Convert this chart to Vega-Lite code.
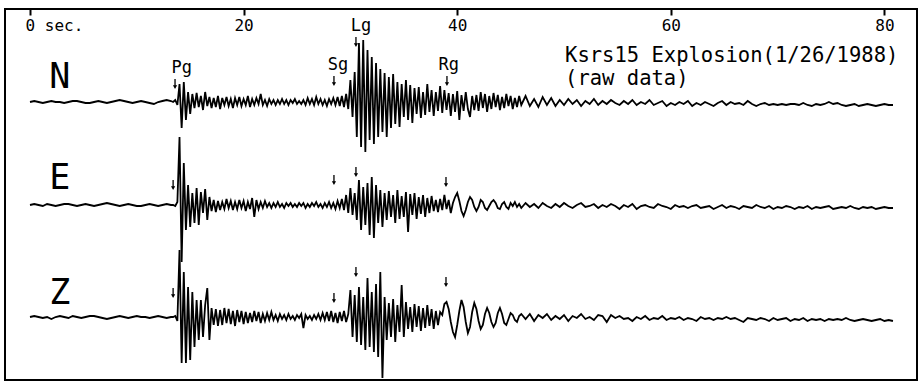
{
"$schema":"https://vega.github.io/schema/vega-lite/v6.json",
"width":912,"height":371,
"autosize":{"type":"none"},
"padding":{"left":5,"top":9,"right":5,"bottom":3},
"background":"white",
"config":{"view":{"stroke":"black","strokeWidth":2},"text":{"font":"DejaVu Sans Mono","color":"black"}},
"datasets":{
"N":[{"t":0,"v":0},{"t":0.4,"v":1},{"t":0.8,"v":0},{"t":1.2,"v":-1},{"t":1.6,"v":0},{"t":2.0,"v":1},{"t":2.4,"v":0},{"t":2.8,"v":0},{"t":3.2,"v":-1},{"t":3.6,"v":0},{"t":4.0,"v":1},{"t":4.4,"v":1},{"t":4.8,"v":0},{"t":5.2,"v":-1},{"t":5.6,"v":-1},{"t":6.0,"v":0},{"t":6.4,"v":1},{"t":6.8,"v":0},{"t":7.2,"v":-1},{"t":7.6,"v":0},{"t":8.0,"v":1},{"t":8.4,"v":2},{"t":8.8,"v":1},{"t":9.2,"v":0},{"t":9.6,"v":-1},{"t":10.0,"v":0},{"t":10.4,"v":1},{"t":10.8,"v":0},{"t":11.2,"v":-1},{"t":11.6,"v":-2},{"t":12.0,"v":0},{"t":12.4,"v":1},{"t":12.8,"v":2},{"t":13.2,"v":1},
{"t":13.4,"v":0},{"t":13.6,"v":2},{"t":13.8,"v":-3},{"t":14.0,"v":18},{"t":14.2,"v":-26},{"t":14.4,"v":20},{"t":14.6,"v":-18},{"t":14.8,"v":10},{"t":15.0,"v":-12},{"t":15.2,"v":8},{"t":15.4,"v":-6},{"t":15.6,"v":9},{"t":15.8,"v":-5},{"t":16.0,"v":6},{"t":16.2,"v":-8},{"t":16.4,"v":10},{"t":16.6,"v":-4},{"t":16.8,"v":5},{"t":17.0,"v":-6},{"t":17.2,"v":4},{"t":17.4,"v":-5},{"t":17.6,"v":6},{"t":17.8,"v":-7},{"t":18.0,"v":4},{"t":18.2,"v":-3},{"t":18.4,"v":5},{"t":18.6,"v":-4},{"t":18.8,"v":3},{"t":19.0,"v":-6},{"t":19.2,"v":4},{"t":19.4,"v":-3},{"t":19.6,"v":5},{"t":19.8,"v":-4},{"t":20.0,"v":3},{"t":20.2,"v":-3},{"t":20.4,"v":6},{"t":20.6,"v":-5},{"t":20.8,"v":3},{"t":21.0,"v":-3},{"t":21.2,"v":4},{"t":21.4,"v":-2},{"t":21.6,"v":8},{"t":21.8,"v":-3},{"t":22.0,"v":2},{"t":22.2,"v":-4},{"t":22.4,"v":3},{"t":22.6,"v":-2},{"t":22.8,"v":2},{"t":23.0,"v":-3},{"t":23.2,"v":2},{"t":23.4,"v":-2},{"t":23.6,"v":3},{"t":23.8,"v":-2},{"t":24.0,"v":2},{"t":24.2,"v":-3},{"t":24.4,"v":2},{"t":24.6,"v":-1},{"t":24.8,"v":3},{"t":25.0,"v":-2},{"t":25.2,"v":1},{"t":25.4,"v":-2},{"t":25.6,"v":2},{"t":25.8,"v":-3},{"t":26.0,"v":4},{"t":26.2,"v":-2},{"t":26.4,"v":3},{"t":26.6,"v":-3},{"t":26.8,"v":5},{"t":27.0,"v":-2},{"t":27.2,"v":3},{"t":27.4,"v":-3},{"t":27.6,"v":2},{"t":27.8,"v":-4},{"t":28.0,"v":3},{"t":28.2,"v":-2},{"t":28.4,"v":4},{"t":28.6,"v":-3},{"t":28.8,"v":5},{"t":29.0,"v":-4},{"t":29.2,"v":6},{"t":29.4,"v":-5},{"t":29.6,"v":8},{"t":29.8,"v":-7},{"t":30.0,"v":22},{"t":30.2,"v":-15},{"t":30.4,"v":30},{"t":30.6,"v":-35},{"t":30.8,"v":59},{"t":31.0,"v":-45},{"t":31.2,"v":62},{"t":31.4,"v":-50},{"t":31.6,"v":52},{"t":31.8,"v":-38},{"t":32.0,"v":45},{"t":32.2,"v":-42},{"t":32.4,"v":39},{"t":32.6,"v":-35},{"t":32.8,"v":33},{"t":33.0,"v":-30},{"t":33.2,"v":29},{"t":33.4,"v":-35},{"t":33.6,"v":25},{"t":33.8,"v":-26},{"t":34.0,"v":28},{"t":34.2,"v":-22},{"t":34.4,"v":20},{"t":34.6,"v":-25},{"t":34.8,"v":18},{"t":35.0,"v":-15},{"t":35.2,"v":22},{"t":35.4,"v":-18},{"t":35.6,"v":17},{"t":35.8,"v":-21},{"t":36.0,"v":14},{"t":36.2,"v":-12},{"t":36.4,"v":15},{"t":36.6,"v":-16},{"t":36.8,"v":10},{"t":37.0,"v":-13},{"t":37.2,"v":18},{"t":37.4,"v":-10},{"t":37.6,"v":12},{"t":37.8,"v":-14},{"t":38.0,"v":10},{"t":38.2,"v":-9},{"t":38.4,"v":16},{"t":38.6,"v":-11},{"t":38.8,"v":12},{"t":39.0,"v":-8},{"t":39.2,"v":9},{"t":39.4,"v":-14},{"t":39.6,"v":8},{"t":39.8,"v":-10},{"t":40.0,"v":11},{"t":40.2,"v":-18},{"t":40.4,"v":7},{"t":40.6,"v":-9},{"t":40.8,"v":10},{"t":41.0,"v":-7},{"t":41.2,"v":-15},{"t":41.4,"v":6},{"t":41.6,"v":-8},{"t":41.8,"v":7},{"t":42.0,"v":-9},{"t":42.2,"v":10},{"t":42.4,"v":-6},{"t":42.6,"v":8},{"t":42.8,"v":-10},{"t":43.0,"v":6},{"t":43.2,"v":-7},{"t":43.4,"v":9},{"t":43.6,"v":-5},{"t":43.8,"v":7},{"t":44.0,"v":-8},{"t":44.2,"v":5},{"t":44.4,"v":-6},{"t":44.6,"v":8},{"t":44.8,"v":-4},{"t":45.0,"v":6},{"t":45.2,"v":-7},{"t":45.4,"v":4},{"t":45.6,"v":-5},{"t":45.8,"v":6},{"t":46.0,"v":-3},
{"t":46.4,"v":6},{"t":46.8,"v":-4},{"t":47.2,"v":3},{"t":47.6,"v":-5},{"t":48.0,"v":5},{"t":48.4,"v":-3},{"t":48.8,"v":4},{"t":49.2,"v":-4},{"t":49.6,"v":2},{"t":50.0,"v":-3},{"t":50.4,"v":3},{"t":50.8,"v":-2},{"t":51.2,"v":2},{"t":51.6,"v":-4},{"t":52.0,"v":1},{"t":52.4,"v":-2},{"t":52.8,"v":3},{"t":53.2,"v":-3},{"t":53.6,"v":1},{"t":54.0,"v":-2},{"t":54.4,"v":2},{"t":54.8,"v":-1},{"t":55.2,"v":-3},{"t":55.6,"v":1},{"t":56.0,"v":-2},{"t":56.4,"v":2},{"t":56.8,"v":-3},{"t":57.2,"v":0},{"t":57.6,"v":-2},{"t":58.0,"v":2},{"t":58.4,"v":-3},{"t":58.8,"v":-1},{"t":59.2,"v":1},{"t":59.6,"v":-4},{"t":60.0,"v":-1},{"t":60.4,"v":-3},{"t":60.8,"v":0},{"t":61.2,"v":-2},{"t":61.6,"v":1},{"t":62.0,"v":-4},{"t":62.4,"v":-1},{"t":62.8,"v":-3},{"t":63.2,"v":0},{"t":63.6,"v":-2},{"t":64.0,"v":-4},{"t":64.4,"v":-1},{"t":64.8,"v":1},{"t":65.2,"v":-3},{"t":65.6,"v":0},{"t":66.0,"v":-2},{"t":66.4,"v":-1},{"t":66.8,"v":-3},{"t":67.2,"v":1},{"t":67.6,"v":-2},{"t":68.0,"v":-4},{"t":68.4,"v":-2},{"t":68.8,"v":-1},{"t":69.2,"v":-3},{"t":69.6,"v":-2},{"t":70.0,"v":-3},{"t":70.4,"v":-2},{"t":70.8,"v":-3},{"t":71.2,"v":-2},{"t":71.6,"v":-2},{"t":72.0,"v":-3},{"t":72.4,"v":-1},{"t":72.8,"v":-3},{"t":73.2,"v":-4},{"t":73.6,"v":-2},{"t":74.0,"v":-3},{"t":74.4,"v":-2},{"t":74.8,"v":0},{"t":75.2,"v":-2},{"t":75.6,"v":-1},{"t":76.0,"v":-3},{"t":76.4,"v":-4},{"t":76.8,"v":-3},{"t":77.2,"v":-2},{"t":77.6,"v":-4},{"t":78.0,"v":-3},{"t":78.4,"v":-2},{"t":78.8,"v":-3},{"t":79.2,"v":-4},{"t":79.6,"v":-3},{"t":80.0,"v":-2},{"t":80.4,"v":-3},{"t":80.8,"v":-3}],
"E":[{"t":0,"v":0},{"t":0.4,"v":1},{"t":0.8,"v":0},{"t":1.2,"v":-1},{"t":1.6,"v":1},{"t":2.0,"v":0},{"t":2.4,"v":-1},{"t":2.8,"v":0},{"t":3.2,"v":1},{"t":3.6,"v":1},{"t":4.0,"v":0},{"t":4.4,"v":-1},{"t":4.8,"v":0},{"t":5.2,"v":1},{"t":5.6,"v":0},{"t":6.0,"v":-1},{"t":6.4,"v":0},{"t":6.8,"v":1},{"t":7.2,"v":2},{"t":7.6,"v":1},{"t":8.0,"v":0},{"t":8.4,"v":-1},{"t":8.8,"v":0},{"t":9.2,"v":1},{"t":9.6,"v":0},{"t":10.0,"v":-1},{"t":10.4,"v":-1},{"t":10.8,"v":0},{"t":11.2,"v":1},{"t":11.6,"v":0},{"t":12.0,"v":-1},{"t":12.4,"v":0},{"t":12.8,"v":1},{"t":13.2,"v":0},
{"t":13.4,"v":0},{"t":13.6,"v":-1},{"t":13.8,"v":3},{"t":14.0,"v":68},{"t":14.2,"v":-57},{"t":14.4,"v":42},{"t":14.6,"v":-25},{"t":14.8,"v":20},{"t":15.0,"v":-22},{"t":15.2,"v":12},{"t":15.4,"v":-18},{"t":15.6,"v":17},{"t":15.8,"v":-20},{"t":16.0,"v":13},{"t":16.2,"v":-8},{"t":16.4,"v":16},{"t":16.6,"v":-15},{"t":16.8,"v":8},{"t":17.0,"v":-6},{"t":17.2,"v":5},{"t":17.4,"v":-7},{"t":17.6,"v":4},{"t":17.8,"v":-5},{"t":18.0,"v":3},{"t":18.2,"v":-4},{"t":18.4,"v":6},{"t":18.6,"v":-3},{"t":18.8,"v":4},{"t":19.0,"v":-5},{"t":19.2,"v":3},{"t":19.4,"v":-4},{"t":19.6,"v":5},{"t":19.8,"v":-3},{"t":20.0,"v":4},{"t":20.2,"v":-6},{"t":20.4,"v":3},{"t":20.6,"v":-4},{"t":20.8,"v":7},{"t":21.0,"v":-12},{"t":21.2,"v":5},{"t":21.4,"v":-4},{"t":21.6,"v":3},{"t":21.8,"v":-3},{"t":22.0,"v":4},{"t":22.2,"v":-2},{"t":22.4,"v":2},{"t":22.6,"v":-3},{"t":22.8,"v":2},{"t":23.0,"v":-2},{"t":23.2,"v":3},{"t":23.4,"v":-2},{"t":23.6,"v":1},{"t":23.8,"v":-3},{"t":24.0,"v":2},{"t":24.2,"v":-1},{"t":24.4,"v":2},{"t":24.6,"v":-2},{"t":24.8,"v":1},{"t":25.0,"v":-2},{"t":25.2,"v":2},{"t":25.4,"v":-1},{"t":25.6,"v":2},{"t":25.8,"v":-3},{"t":26.0,"v":1},{"t":26.2,"v":-2},{"t":26.4,"v":2},{"t":26.6,"v":-1},{"t":26.8,"v":3},{"t":27.0,"v":-2},{"t":27.2,"v":1},{"t":27.4,"v":-3},{"t":27.6,"v":2},{"t":27.8,"v":-2},{"t":28.0,"v":3},{"t":28.2,"v":-3},{"t":28.4,"v":2},{"t":28.6,"v":-4},{"t":28.8,"v":4},{"t":29.0,"v":-3},{"t":29.2,"v":6},{"t":29.4,"v":-5},{"t":29.6,"v":10},{"t":29.8,"v":-8},{"t":30.0,"v":17},{"t":30.2,"v":-10},{"t":30.4,"v":12},{"t":30.6,"v":-15},{"t":30.8,"v":25},{"t":31.0,"v":-25},{"t":31.2,"v":18},{"t":31.4,"v":-20},{"t":31.6,"v":22},{"t":31.8,"v":-30},{"t":32.0,"v":28},{"t":32.2,"v":-33},{"t":32.4,"v":20},{"t":32.6,"v":-18},{"t":32.8,"v":15},{"t":33.0,"v":-22},{"t":33.2,"v":12},{"t":33.4,"v":-15},{"t":33.6,"v":14},{"t":33.8,"v":-12},{"t":34.0,"v":10},{"t":34.2,"v":-18},{"t":34.4,"v":15},{"t":34.6,"v":-14},{"t":34.8,"v":9},{"t":35.0,"v":-12},{"t":35.2,"v":13},{"t":35.4,"v":-27},{"t":35.6,"v":11},{"t":35.8,"v":-10},{"t":36.0,"v":12},{"t":36.2,"v":-14},{"t":36.4,"v":8},{"t":36.6,"v":-9},{"t":36.8,"v":10},{"t":37.0,"v":-12},{"t":37.2,"v":7},{"t":37.4,"v":-8},{"t":37.6,"v":9},{"t":37.8,"v":-6},{"t":38.0,"v":5},{"t":38.2,"v":-7},{"t":38.4,"v":6},{"t":38.6,"v":-5},{"t":38.8,"v":10},{"t":39.0,"v":-4},{"t":39.2,"v":5},{"t":39.4,"v":-8},{"t":39.6,"v":2},{"t":39.8,"v":8},{"t":40.0,"v":12},{"t":40.2,"v":4},{"t":40.4,"v":-6},{"t":40.6,"v":-11},{"t":40.8,"v":-5},{"t":41.0,"v":3},{"t":41.2,"v":8},{"t":41.4,"v":5},{"t":41.6,"v":-2},{"t":41.8,"v":-6},{"t":42.0,"v":-2},{"t":42.2,"v":5},{"t":42.4,"v":3},{"t":42.6,"v":-3},{"t":42.8,"v":-5},{"t":43.0,"v":-1},{"t":43.2,"v":3},{"t":43.4,"v":5},{"t":43.6,"v":2},{"t":43.8,"v":-3},{"t":44.0,"v":-4},{"t":44.2,"v":1},{"t":44.4,"v":3},{"t":44.6,"v":-2},{"t":44.8,"v":-4},{"t":45.0,"v":2},{"t":45.2,"v":-1},{"t":45.4,"v":3},{"t":45.6,"v":-2},{"t":45.8,"v":1},{"t":46.0,"v":-3},
{"t":46.4,"v":2},{"t":46.8,"v":-2},{"t":47.2,"v":1},{"t":47.6,"v":-3},{"t":48.0,"v":2},{"t":48.4,"v":-1},{"t":48.8,"v":-3},{"t":49.2,"v":1},{"t":49.6,"v":-2},{"t":50.0,"v":2},{"t":50.4,"v":-1},{"t":50.8,"v":-3},{"t":51.2,"v":0},{"t":51.6,"v":2},{"t":52.0,"v":-2},{"t":52.4,"v":-1},{"t":52.8,"v":1},{"t":53.2,"v":-3},{"t":53.6,"v":0},{"t":54.0,"v":-2},{"t":54.4,"v":1},{"t":54.8,"v":-1},{"t":55.2,"v":-4},{"t":55.6,"v":0},{"t":56.0,"v":-2},{"t":56.4,"v":1},{"t":56.8,"v":-4},{"t":57.2,"v":-1},{"t":57.6,"v":0},{"t":58.0,"v":-2},{"t":58.4,"v":-3},{"t":58.8,"v":1},{"t":59.2,"v":-1},{"t":59.6,"v":-2},{"t":60.0,"v":-4},{"t":60.4,"v":0},{"t":60.8,"v":-2},{"t":61.2,"v":-1},{"t":61.6,"v":-3},{"t":62.0,"v":-1},{"t":62.4,"v":0},{"t":62.8,"v":-3},{"t":63.2,"v":-2},{"t":63.6,"v":-1},{"t":64.0,"v":-4},{"t":64.4,"v":-2},{"t":64.8,"v":0},{"t":65.2,"v":-3},{"t":65.6,"v":-1},{"t":66.0,"v":-2},{"t":66.4,"v":-4},{"t":66.8,"v":-1},{"t":67.2,"v":-2},{"t":67.6,"v":-3},{"t":68.0,"v":0},{"t":68.4,"v":-2},{"t":68.8,"v":-3},{"t":69.2,"v":-1},{"t":69.6,"v":-4},{"t":70.0,"v":-2},{"t":70.4,"v":-3},{"t":70.8,"v":-1},{"t":71.2,"v":-2},{"t":71.6,"v":-4},{"t":72.0,"v":-2},{"t":72.4,"v":-3},{"t":72.8,"v":-1},{"t":73.2,"v":-4},{"t":73.6,"v":-2},{"t":74.0,"v":-3},{"t":74.4,"v":-2},{"t":74.8,"v":-1},{"t":75.2,"v":-4},{"t":75.6,"v":-3},{"t":76.0,"v":-2},{"t":76.4,"v":-3},{"t":76.8,"v":-1},{"t":77.2,"v":-3},{"t":77.6,"v":-4},{"t":78.0,"v":-2},{"t":78.4,"v":-3},{"t":78.8,"v":-2},{"t":79.2,"v":-4},{"t":79.6,"v":-3},{"t":80.0,"v":-2},{"t":80.4,"v":-3},{"t":80.8,"v":-3}],
"Z":[{"t":0,"v":0},{"t":0.4,"v":1},{"t":0.8,"v":0},{"t":1.2,"v":-1},{"t":1.6,"v":0},{"t":2.0,"v":-2},{"t":2.4,"v":0},{"t":2.8,"v":1},{"t":3.2,"v":0},{"t":3.6,"v":-1},{"t":4.0,"v":1},{"t":4.4,"v":0},{"t":4.8,"v":-1},{"t":5.2,"v":0},{"t":5.6,"v":1},{"t":6.0,"v":1},{"t":6.4,"v":0},{"t":6.8,"v":-1},{"t":7.2,"v":-2},{"t":7.6,"v":-1},{"t":8.0,"v":0},{"t":8.4,"v":1},{"t":8.8,"v":0},{"t":9.2,"v":-1},{"t":9.6,"v":0},{"t":10.0,"v":1},{"t":10.4,"v":0},{"t":10.8,"v":0},{"t":11.2,"v":-1},{"t":11.6,"v":0},{"t":12.0,"v":1},{"t":12.4,"v":0},{"t":12.8,"v":-1},{"t":13.2,"v":0},
{"t":13.4,"v":0},{"t":13.6,"v":1},{"t":13.8,"v":-4},{"t":14.0,"v":67},{"t":14.2,"v":-46},{"t":14.4,"v":45},{"t":14.6,"v":-46},{"t":14.8,"v":30},{"t":15.0,"v":-43},{"t":15.2,"v":25},{"t":15.4,"v":-30},{"t":15.6,"v":17},{"t":15.8,"v":-23},{"t":16.0,"v":17},{"t":16.2,"v":-20},{"t":16.4,"v":12},{"t":16.6,"v":29},{"t":16.8,"v":-23},{"t":17.0,"v":9},{"t":17.2,"v":-8},{"t":17.4,"v":8},{"t":17.6,"v":-9},{"t":17.8,"v":7},{"t":18.0,"v":-8},{"t":18.2,"v":9},{"t":18.4,"v":-6},{"t":18.6,"v":8},{"t":18.8,"v":-7},{"t":19.0,"v":6},{"t":19.2,"v":-9},{"t":19.4,"v":7},{"t":19.6,"v":-5},{"t":19.8,"v":6},{"t":20.0,"v":-7},{"t":20.2,"v":5},{"t":20.4,"v":-6},{"t":20.6,"v":4},{"t":20.8,"v":-5},{"t":21.0,"v":6},{"t":21.2,"v":-4},{"t":21.4,"v":5},{"t":21.6,"v":-6},{"t":21.8,"v":3},{"t":22.0,"v":-4},{"t":22.2,"v":4},{"t":22.4,"v":-3},{"t":22.6,"v":5},{"t":22.8,"v":-3},{"t":23.0,"v":2},{"t":23.2,"v":-4},{"t":23.4,"v":3},{"t":23.6,"v":-2},{"t":23.8,"v":2},{"t":24.0,"v":-3},{"t":24.2,"v":3},{"t":24.4,"v":-2},{"t":24.6,"v":1},{"t":24.8,"v":-3},{"t":25.0,"v":2},{"t":25.2,"v":-1},{"t":25.4,"v":3},{"t":25.6,"v":-11},{"t":25.8,"v":2},{"t":26.0,"v":-2},{"t":26.2,"v":1},{"t":26.4,"v":-3},{"t":26.6,"v":2},{"t":26.8,"v":-2},{"t":27.0,"v":3},{"t":27.2,"v":-3},{"t":27.4,"v":4},{"t":27.6,"v":-3},{"t":27.8,"v":5},{"t":28.0,"v":-4},{"t":28.2,"v":6},{"t":28.4,"v":-5},{"t":28.6,"v":4},{"t":28.8,"v":-6},{"t":29.0,"v":5},{"t":29.2,"v":-4},{"t":29.4,"v":6},{"t":29.6,"v":-5},{"t":29.8,"v":3},{"t":30.0,"v":27},{"t":30.2,"v":-20},{"t":30.4,"v":22},{"t":30.6,"v":-25},{"t":30.8,"v":30},{"t":31.0,"v":-28},{"t":31.2,"v":20},{"t":31.4,"v":-33},{"t":31.6,"v":39},{"t":31.8,"v":-30},{"t":32.0,"v":25},{"t":32.2,"v":-35},{"t":32.4,"v":33},{"t":32.6,"v":-40},{"t":32.8,"v":45},{"t":33.0,"v":-61},{"t":33.2,"v":20},{"t":33.4,"v":-23},{"t":33.6,"v":14},{"t":33.8,"v":-20},{"t":34.0,"v":18},{"t":34.2,"v":-25},{"t":34.4,"v":12},{"t":34.6,"v":-15},{"t":34.8,"v":32},{"t":35.0,"v":-20},{"t":35.2,"v":15},{"t":35.4,"v":-12},{"t":35.6,"v":10},{"t":35.8,"v":-15},{"t":36.0,"v":13},{"t":36.2,"v":-10},{"t":36.4,"v":11},{"t":36.6,"v":-14},{"t":36.8,"v":9},{"t":37.0,"v":-11},{"t":37.2,"v":12},{"t":37.4,"v":-9},{"t":37.6,"v":8},{"t":37.8,"v":-12},{"t":38.0,"v":6},{"t":38.2,"v":-8},{"t":38.4,"v":5},{"t":38.6,"v":2},{"t":38.8,"v":13},{"t":39.0,"v":15},{"t":39.2,"v":8},{"t":39.4,"v":-5},{"t":39.6,"v":-15},{"t":39.8,"v":-20},{"t":40.0,"v":-8},{"t":40.2,"v":6},{"t":40.4,"v":17},{"t":40.6,"v":10},{"t":40.8,"v":-5},{"t":41.0,"v":-16},{"t":41.2,"v":-10},{"t":41.4,"v":5},{"t":41.6,"v":14},{"t":41.8,"v":8},{"t":42.0,"v":-4},{"t":42.2,"v":-12},{"t":42.4,"v":-8},{"t":42.6,"v":3},{"t":42.8,"v":9},{"t":43.0,"v":4},{"t":43.2,"v":-5},{"t":43.4,"v":-10},{"t":43.6,"v":-6},{"t":43.8,"v":4},{"t":44.0,"v":9},{"t":44.2,"v":3},{"t":44.4,"v":-6},{"t":44.6,"v":-8},{"t":44.8,"v":-2},{"t":45.0,"v":4},{"t":45.2,"v":2},{"t":45.4,"v":-3},{"t":45.6,"v":-5},{"t":45.8,"v":1},{"t":46.0,"v":3},
{"t":46.4,"v":-2},{"t":46.8,"v":3},{"t":47.2,"v":-4},{"t":47.6,"v":2},{"t":48.0,"v":-1},{"t":48.4,"v":3},{"t":48.8,"v":-3},{"t":49.2,"v":1},{"t":49.6,"v":-2},{"t":50.0,"v":2},{"t":50.4,"v":-4},{"t":50.8,"v":1},{"t":51.2,"v":-1},{"t":51.6,"v":3},{"t":52.0,"v":-2},{"t":52.4,"v":0},{"t":52.8,"v":-3},{"t":53.2,"v":2},{"t":53.6,"v":1},{"t":54.0,"v":-5},{"t":54.4,"v":2},{"t":54.8,"v":-1},{"t":55.2,"v":1},{"t":55.6,"v":-2},{"t":56.0,"v":-1},{"t":56.4,"v":-4},{"t":56.8,"v":0},{"t":57.2,"v":-2},{"t":57.6,"v":1},{"t":58.0,"v":-3},{"t":58.4,"v":-1},{"t":58.8,"v":-2},{"t":59.2,"v":1},{"t":59.6,"v":-3},{"t":60.0,"v":-1},{"t":60.4,"v":-2},{"t":60.8,"v":0},{"t":61.2,"v":-3},{"t":61.6,"v":-1},{"t":62.0,"v":-2},{"t":62.4,"v":-4},{"t":62.8,"v":0},{"t":63.2,"v":-2},{"t":63.6,"v":-1},{"t":64.0,"v":-3},{"t":64.4,"v":-1},{"t":64.8,"v":-2},{"t":65.2,"v":0},{"t":65.6,"v":-2},{"t":66.0,"v":-1},{"t":66.4,"v":-3},{"t":66.8,"v":-5},{"t":67.2,"v":-1},{"t":67.6,"v":-2},{"t":68.0,"v":-3},{"t":68.4,"v":-1},{"t":68.8,"v":-2},{"t":69.2,"v":-4},{"t":69.6,"v":-1},{"t":70.0,"v":-3},{"t":70.4,"v":-2},{"t":70.8,"v":-1},{"t":71.2,"v":-4},{"t":71.6,"v":-2},{"t":72.0,"v":-3},{"t":72.4,"v":-1},{"t":72.8,"v":-4},{"t":73.2,"v":-2},{"t":73.6,"v":-3},{"t":74.0,"v":-2},{"t":74.4,"v":-4},{"t":74.8,"v":-2},{"t":75.2,"v":-3},{"t":75.6,"v":-2},{"t":76.0,"v":-3},{"t":76.4,"v":-1},{"t":76.8,"v":-3},{"t":77.2,"v":-4},{"t":77.6,"v":-3},{"t":78.0,"v":-2},{"t":78.4,"v":-3},{"t":78.8,"v":-4},{"t":79.2,"v":-3},{"t":79.6,"v":-2},{"t":80.0,"v":-4},{"t":80.4,"v":-3},{"t":80.8,"v":-4}],
"ann":[
{"ch":"N","kind":"comp","t":2.8,"v":14,"label":"N"},
{"ch":"E","kind":"comp","t":2.8,"v":16,"label":"E"},
{"ch":"Z","kind":"comp","t":2.8,"v":13,"label":"Z"},
{"ch":"N","kind":"phase","t":14.2,"v":29,"label":"Pg"},
{"ch":"N","kind":"phase","t":28.84,"v":32,"label":"Sg"},
{"ch":"N","kind":"phase","t":31.0,"v":71,"label":"Lg"},
{"ch":"N","kind":"phase","t":39.2,"v":32,"label":"Rg"},
{"ch":"N","kind":"arrow","t":13.58,"v":18,"label":"Pg"},
{"ch":"N","kind":"arrow","t":28.46,"v":21,"label":"Sg"},
{"ch":"N","kind":"arrow","t":30.52,"v":60,"label":"Lg"},
{"ch":"N","kind":"arrow","t":39.04,"v":21,"label":"Rg"},
{"ch":"E","kind":"arrow","t":13.4,"v":20,"label":"Pg"},
{"ch":"E","kind":"arrow","t":28.46,"v":25,"label":"Sg"},
{"ch":"E","kind":"arrow","t":30.52,"v":33,"label":"Lg"},
{"ch":"E","kind":"arrow","t":38.95,"v":23,"label":"Rg"},
{"ch":"Z","kind":"arrow","t":13.4,"v":24,"label":"Pg"},
{"ch":"Z","kind":"arrow","t":28.46,"v":19,"label":"Sg"},
{"ch":"Z","kind":"arrow","t":30.52,"v":45,"label":"Lg"},
{"ch":"Z","kind":"arrow","t":38.95,"v":35,"label":"Rg"},
{"ch":"N","kind":"title","t":50.1,"v":40,"label":"Ksrs15 Explosion(1/26/1988)"},
{"ch":"N","kind":"title","t":50.1,"v":17,"label":"(raw data)"}
]},
"encoding":{"x":{"field":"t","type":"quantitative","title":null,"scale":{"domain":[-2.34,83.05],"nice":false,"zero":false},
 "axis":{"orient":"top","values":[0,20,40,60,80],"domain":false,"grid":false,"ticks":true,"tickSize":-6,"tickWidth":2,"tickColor":"black","labelFont":"DejaVu Sans Mono","labelFontSize":16,"labelColor":"black","labelPadding":-2,"labelBaseline":"top","labelFlush":false,"labelOverlap":false,"labelExpr":"datum.value==0 ? '0 sec.' : datum.label","labelAlign":{"condition":{"test":"datum.value==0","value":"left"},"value":"center"},"labelOffset":{"condition":{"test":"datum.value==0","value":-5},"value":0}}}},
"layer":[
 {"encoding":{"y":{"field":"v","type":"quantitative","title":null,"scale":{"domain":[-278,93],"nice":false,"zero":false},"axis":null}},
  "layer":[
   {"data":{"name":"N"},"mark":{"type":"line","color":"black","strokeWidth":1.8},"encoding":{}},
   {"data":{"name":"ann"},"transform":[{"filter":"datum.ch=='N' && datum.kind=='comp'"}],"mark":{"type":"text","fontSize":35,"align":"center","baseline":"alphabetic"},"encoding":{"text":{"field":"label"}}},
   {"data":{"name":"ann"},"transform":[{"filter":"datum.ch=='N' && datum.kind=='phase'"}],"mark":{"type":"text","fontSize":17,"align":"center","baseline":"alphabetic"},"encoding":{"text":{"field":"label"}}},
   {"data":{"name":"ann"},"transform":[{"filter":"datum.ch=='N' && datum.kind=='arrow'"}],"mark":{"type":"point","shape":"M-0.13,-1 L0.13,-1 L0.13,0.25 L0.42,0.25 L0,1 L-0.42,0.25 L-0.13,0.25 Z","filled":true,"size":100,"color":"black","opacity":1},"encoding":{}},
   {"data":{"name":"ann"},"transform":[{"filter":"datum.ch=='N' && datum.kind=='title'"}],"mark":{"type":"text","fontSize":20.5,"align":"left","baseline":"alphabetic"},"encoding":{"text":{"field":"label"}}}
  ]},
 {"encoding":{"y":{"field":"v","type":"quantitative","title":null,"scale":{"domain":[-175,196],"nice":false,"zero":false},"axis":null}},
  "layer":[
   {"data":{"name":"E"},"mark":{"type":"line","color":"black","strokeWidth":1.8},"encoding":{}},
   {"data":{"name":"ann"},"transform":[{"filter":"datum.ch=='E' && datum.kind=='comp'"}],"mark":{"type":"text","fontSize":35,"align":"center","baseline":"alphabetic"},"encoding":{"text":{"field":"label"}}},
   {"data":{"name":"ann"},"transform":[{"filter":"datum.ch=='E' && datum.kind=='arrow'"}],"mark":{"type":"point","shape":"M-0.13,-1 L0.13,-1 L0.13,0.25 L0.42,0.25 L0,1 L-0.42,0.25 L-0.13,0.25 Z","filled":true,"size":100,"color":"black","opacity":1},"encoding":{}}
  ]},
 {"encoding":{"y":{"field":"v","type":"quantitative","title":null,"scale":{"domain":[-63,308],"nice":false,"zero":false},"axis":null}},
  "layer":[
   {"data":{"name":"Z"},"mark":{"type":"line","color":"black","strokeWidth":1.8},"encoding":{}},
   {"data":{"name":"ann"},"transform":[{"filter":"datum.ch=='Z' && datum.kind=='comp'"}],"mark":{"type":"text","fontSize":35,"align":"center","baseline":"alphabetic"},"encoding":{"text":{"field":"label"}}},
   {"data":{"name":"ann"},"transform":[{"filter":"datum.ch=='Z' && datum.kind=='arrow'"}],"mark":{"type":"point","shape":"M-0.13,-1 L0.13,-1 L0.13,0.25 L0.42,0.25 L0,1 L-0.42,0.25 L-0.13,0.25 Z","filled":true,"size":100,"color":"black","opacity":1},"encoding":{}}
  ]}
],
"resolve":{"scale":{"y":"independent"}}
}
